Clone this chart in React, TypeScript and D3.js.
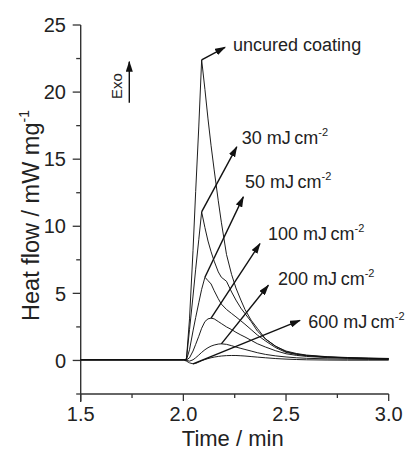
import React from "react";
import * as d3 from "d3";

const TIME = [1.5, 1.9, 2.0, 2.015, 2.03, 2.047, 2.06, 2.075, 2.089, 2.105, 2.12, 2.135, 2.15, 2.17, 2.185, 2.21, 2.235, 2.256, 2.28, 2.3, 2.33, 2.36, 2.4, 2.45, 2.5, 2.55, 2.6, 2.7, 2.8, 2.9, 3.0];

const UNCURED = [0.05, 0.05, 0.05, 0.1, 3.1, 8.2, 12.6, 17.4, 22.4, 20.2, 18.0, 16.0, 14.2, 11.9, 10.3, 7.9, 6.4, 5.4, 4.5, 3.8, 3.0, 2.4, 1.6, 1.05, 0.7, 0.52, 0.4, 0.28, 0.22, 0.18, 0.15];
const MJ30 = [0.05, 0.05, 0.05, 0.1, 2.3, 4.8, 6.8, 9.0, 11.07, 9.9, 8.9, 8.1, 7.4, 6.6, 6.2, 5.9, 5.1, 4.5, 3.9, 3.5, 2.9, 2.2, 1.6, 1.05, 0.65, 0.48, 0.37, 0.26, 0.2, 0.16, 0.13];
const MJ50 = [0.05, 0.05, 0.05, 0.05, 0.8, 2.2, 3.2, 4.3, 5.3, 6.2, 5.95, 5.7, 5.2, 4.6, 4.2, 3.8, 3.5, 3.25, 2.95, 2.7, 2.3, 1.9, 1.45, 0.95, 0.6, 0.45, 0.35, 0.25, 0.19, 0.15, 0.12];
const MJ100 = [0.05, 0.05, 0.05, 0.03, 0.2, 0.7, 1.2, 1.8, 2.4, 2.9, 3.1, 3.15, 3.1, 2.9, 2.75, 2.5, 2.3, 2.1, 1.9, 1.75, 1.5, 1.25, 1.0, 0.72, 0.5, 0.38, 0.3, 0.21, 0.16, 0.13, 0.1];
const MJ200 = [0.05, 0.05, 0.05, 0.0, -0.05, 0.05, 0.2, 0.4, 0.6, 0.8, 0.95, 1.07, 1.15, 1.22, 1.24, 1.2, 1.1, 1.0, 0.9, 0.82, 0.7, 0.58, 0.45, 0.34, 0.26, 0.2, 0.16, 0.12, 0.1, 0.08, 0.07];
const MJ600 = [0.05, 0.05, 0.05, -0.05, -0.18, -0.25, -0.22, -0.12, -0.02, 0.07, 0.14, 0.2, 0.25, 0.3, 0.33, 0.36, 0.37, 0.37, 0.35, 0.33, 0.29, 0.25, 0.2, 0.14, 0.1, 0.07, 0.05, 0.03, 0.02, 0.02, 0.02];

const SERIES = [UNCURED, MJ30, MJ50, MJ100, MJ200, MJ600];
const LABEL_MAIN = ["uncured coating", "30 mJ\u2009cm", "50 mJ\u2009cm", "100 mJ\u2009cm", "200 mJ\u2009cm", "600 mJ\u2009cm"];
const LABEL_SUP = ["", "-2", "-2", "-2", "-2", "-2"];
const LABEL_T = [2.242, 2.284, 2.3, 2.412, 2.461, 2.608];
const LABEL_V = [23.5, 16.57, 13.3, 9.46, 6.1, 2.86];
const ARROW_END_T = [2.203, 2.26, 2.292, 2.373, 2.414, 2.568];
const ARROW_END_V = [23.34, 15.92, 12.19, 8.71, 5.6, 2.99];

const X_MAJOR = [1.5, 2.0, 2.5, 3.0];
const X_MINOR = [1.75, 2.25, 2.75];
const Y_MAJOR = [0, 5, 10, 15, 20, 25];
const Y_MINOR = [-2.5, 2.5, 7.5, 12.5, 17.5, 22.5];

const FONT = "'Liberation Sans', Arial, Helvetica, sans-serif";

export default function App() {
  const W = 411, H = 452;
  const x = d3.scaleLinear().domain([1.5, 3.0]).range([80.7, 388.7]);
  const y = d3.scaleLinear().domain([-2.5, 25]).range([394, 25]);
  const line = d3.line<number>().x((_, i) => x(TIME[i])).y((v) => y(v)).curve(d3.curveLinear);
  const axisColor = "#333";

  return (
    <svg width={W} height={H} style={{ position: "absolute", left: 0, top: 0, background: "#fff" }} fontFamily={FONT}>
      <defs>
        <marker id="ah" markerUnits="userSpaceOnUse" markerWidth={11} markerHeight={7} refX={10} refY={3.5} orient="auto">
          <path d="M0,0 L11,3.5 L0,7 Z" fill="#111" />
        </marker>
      </defs>
      {/* axes */}
      <line x1={x(1.5)} x2={x(3.0)} y1={y(-2.5)} y2={y(-2.5)} stroke={axisColor} strokeWidth={1.4} />
      <line x1={x(1.5)} x2={x(1.5)} y1={y(-2.5) + 8} y2={y(25)} stroke={axisColor} strokeWidth={1.4} />
      {X_MAJOR.map((t) => (
        <g key={"xm" + t}>
          <line x1={x(t)} x2={x(t)} y1={y(-2.5)} y2={y(-2.5) + 7} stroke={axisColor} strokeWidth={1.3} />
          <text x={x(t)} y={421} fontSize={20} textAnchor="middle" fill="#222">{t.toFixed(1)}</text>
        </g>
      ))}
      {X_MINOR.map((t) => (
        <line key={"xn" + t} x1={x(t)} x2={x(t)} y1={y(-2.5)} y2={y(-2.5) + 4} stroke={axisColor} strokeWidth={1.3} />
      ))}
      {Y_MAJOR.map((v) => (
        <g key={"ym" + v}>
          <line x1={x(1.5) - 8} x2={x(1.5)} y1={y(v)} y2={y(v)} stroke={axisColor} strokeWidth={1.3} />
          <text x={66} y={y(v)} dy="0.36em" fontSize={20} textAnchor="end" fill="#222">{v}</text>
        </g>
      ))}
      {Y_MINOR.map((v) => (
        <line key={"yn" + v} x1={x(1.5) - 4.5} x2={x(1.5)} y1={y(v)} y2={y(v)} stroke={axisColor} strokeWidth={1.3} />
      ))}
      <text x={(x(1.5) + x(3.0)) / 2 - 2} y={446} fontSize={22} textAnchor="middle" fill="#222">Time / min</text>
      <text transform={`translate(39, ${(y(-2.5) + y(25)) / 2 + 6}) rotate(-90)`} fontSize={23.5} textAnchor="middle" fill="#222">
        Heat flow / mW mg<tspan dy={-10} fontSize={14}>-1</tspan>
      </text>
      {/* Exo */}
      <text transform={`translate(122, 86) rotate(-90)`} fontSize={15} textAnchor="middle" fill="#222">Exo</text>
      <line x1={129.3} x2={129.3} y1={102.7} y2={61.7} stroke="#111" strokeWidth={1.4} markerEnd="url(#ah)" />
      {/* curves */}
      {SERIES.map((s, i) => (
        <path key={"s" + i} d={line(s) || ""} fill="none" stroke="#111" strokeWidth={0.95} />
      ))}
      {/* arrows and labels */}
      {SERIES.map((s, i) => {
        const idx = i === 5 ? d3.minIndex(s) : d3.maxIndex(s);
        return (
          <line key={"a" + i} x1={x(TIME[idx])} y1={y(s[idx])} x2={x(ARROW_END_T[i])} y2={y(ARROW_END_V[i])}
            stroke="#111" strokeWidth={1.4} markerEnd="url(#ah)" />
        );
      })}
      {LABEL_MAIN.map((lab, i) => (
        <text key={"l" + i} x={x(LABEL_T[i])} y={y(LABEL_V[i])} dy="0.35em" fontSize={18} fill="#222">
          {lab}
          {LABEL_SUP[i] ? <tspan dy={-8} fontSize={11}>{LABEL_SUP[i]}</tspan> : null}
        </text>
      ))}
    </svg>
  );
}
